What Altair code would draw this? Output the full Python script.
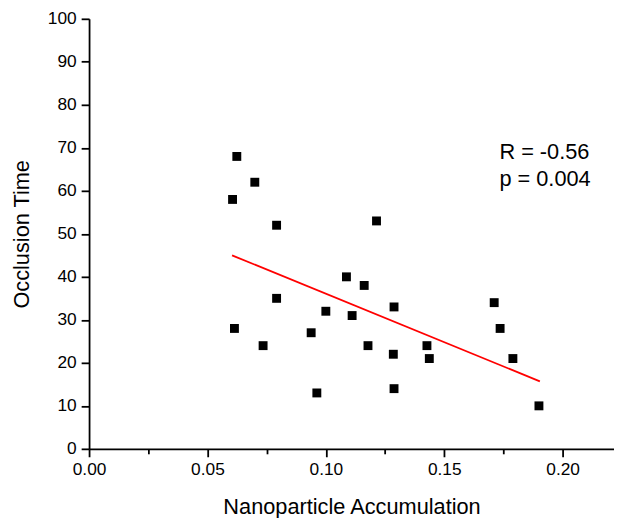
import altair as alt
import pandas as pd

# Scatter data
accumulation = [0.0606, 0.0624, 0.0700, 0.0792, 0.1214, 0.1087, 0.1162, 0.0792,
                0.1288, 0.1000, 0.1111, 0.0614, 0.0938, 0.0735, 0.1178, 0.1285,
                0.0962, 0.1288, 0.1711, 0.1736, 0.1427, 0.1437, 0.1790, 0.1900]
occlusion = [58, 68, 62, 52, 53, 40, 38, 35,
             33, 32, 31, 28, 27, 24, 24, 22,
             13, 14, 34, 28, 24, 21, 21, 10]

# Fitted line end points
fit_x = [0.0604, 0.1904]
fit_y = [45.0, 15.7]

# Annotation
note_text = ["R = -0.56", "p = 0.004"]
note_x = [0.1733, 0.1733]
note_y = [69.1, 62.8]

x_ticks = [round(i * 0.025, 3) for i in range(9)]
y_ticks = list(range(0, 101, 5))

pts = pd.DataFrame({"x": accumulation, "y": occlusion})
fit = pd.DataFrame({"x": fit_x, "y": fit_y})
notes = pd.DataFrame({"x": note_x, "y": note_y, "t": note_text})

FONT = "Liberation Sans"

x_scale = alt.Scale(domain=[0, 0.2217], nice=False, zero=False)
y_scale = alt.Scale(domain=[0, 100], nice=False)

x_axis = alt.Axis(
    values=x_ticks,
    format=".2f",
    labelExpr="round(datum.value*1000) % 50 === 0 ? datum.label : ''",
    tickSize={"condition": {"test": "round(datum.value*1000) % 50 === 0", "value": 8}, "value": 5},
    grid=False,
    title="Nanoparticle Accumulation",
    labelOverlap=False,
    labelFlush=False,
)
y_axis = alt.Axis(
    values=y_ticks,
    labelExpr="datum.value % 10 === 0 ? datum.label : ''",
    tickSize={"condition": {"test": "datum.value % 10 === 0", "value": 8}, "value": 5},
    grid=False,
    title="Occlusion Time",
    labelOverlap=False,
    labelFlush=False,
)

points = alt.Chart(pts).mark_square(size=81, color="black", opacity=1).encode(
    x=alt.X("x:Q", scale=x_scale, axis=x_axis),
    y=alt.Y("y:Q", scale=y_scale, axis=y_axis),
)

line = alt.Chart(fit).mark_line(color="#ff0000", strokeWidth=1.8).encode(
    x=alt.X("x:Q", scale=x_scale),
    y=alt.Y("y:Q", scale=y_scale),
)

text = alt.Chart(notes).mark_text(
    align="left", baseline="middle", fontSize=22, font=FONT, color="black"
).encode(
    x=alt.X("x:Q", scale=x_scale),
    y=alt.Y("y:Q", scale=y_scale),
    text="t:N",
)

chart = alt.layer(line, points, text).properties(
    width=531,
    height=435,
    autosize=alt.AutoSizeParams(type="none"),
    padding={"left": 82, "top": 8, "right": 0, "bottom": 67},
).configure_view(
    stroke=None
).configure_axis(
    domainColor="black",
    domainWidth=1.8,
    tickColor="black",
    tickWidth=1.8,
    labelColor="black",
    labelFont=FONT,
    labelFontSize=17.5,
    titleFont=FONT,
    titleFontSize=22,
    titleFontWeight="normal",
    titleColor="black",
).configure_axisX(
    labelPadding=4,
    titlePadding=19,
).configure_axisY(
    labelPadding=5,
    titlePadding=14,
)

chart.save("out.html", embed_options={"renderer": "svg", "actions": False})
